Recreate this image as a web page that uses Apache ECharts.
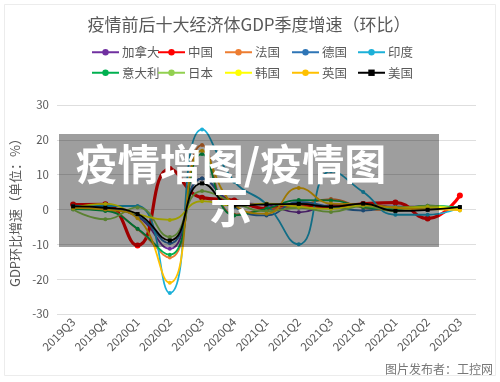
<!DOCTYPE html>
<html><head><meta charset="utf-8">
<script src="https://cdn.jsdelivr.net/npm/echarts@6/dist/echarts.min.js"></script>
<style>html,body{margin:0;padding:0;background:#fff}#c{width:500px;height:382px}</style>
</head><body><div id="c"></div>
<script>
const categories = ['2019Q3','2019Q4','2020Q1','2020Q2','2020Q3','2020Q4','2021Q1','2021Q2','2021Q3','2021Q4','2022Q1','2022Q2','2022Q3'];
const canada  = [0.3, 0.1, -2.1, -11.3, 8.9, 2.2, 1.3, -0.8, 1.3, 1.6, 0.8, 0.8, 0.7];
const china   = [1.4, 1.5, -10.3, 11.6, 3.4, 2.6, 0.3, 1.3, 0.7, 1.6, 2.0, -2.6, 4.0];
const france  = [0.2, -0.2, -5.7, -13.8, 18.5, -1.5, 0.1, 1.1, 3.0, 0.5, -0.2, 0.5, 0.2];
const germany = [0.3, 0.0, -1.9, -9.7, 8.9, 0.7, -1.7, 2.2, 0.8, -0.3, 0.8, 0.1, 0.4];
const india   = [1.0, 1.0, 1.0, -24.0, 23.0, 8.0, 1.5, -10.0, 11.0, 5.0, -1.5, -1.5, 0.5];
const italy   = [0.1, -0.4, -5.5, -13.0, 15.9, -1.7, 0.2, 2.7, 2.6, 0.7, 0.1, 1.1, 0.5];
const japan   = [0.0, -2.8, 0.6, -7.9, 5.3, 2.0, -0.5, 0.5, -0.7, 1.0, -0.5, 1.1, -0.3];
const korea   = [0.4, 1.6, -1.3, -3.0, 2.4, 1.1, 1.7, 0.8, 0.2, 1.2, 0.6, 0.7, 0.3];
const uk      = [0.5, 0.0, -2.5, -21.0, 16.9, 1.3, -1.2, 6.2, 1.7, 1.5, 0.5, 0.1, -0.2];
const us      = [0.9, 0.5, -1.3, -8.9, 7.5, 1.1, 1.5, 1.6, 0.8, 1.7, -0.4, -0.1, 0.7];
const seriesNames = ['加拿大','中国','法国','德国','印度','意大利','日本','韩国','英国','美国'];
const seriesData = [canada, china, france, germany, india, italy, japan, korea, uk, us];
const seriesColors = ['#7030A0','#FF0000','#ED7D31','#2E75B6','#1CB0D8','#00B050','#92D050','#FFFF00','#FFC000','#000000'];
const yTicks = [-30, 30, 10];

const chart = echarts.init(document.getElementById('c'));
const FONT = '"Noto Sans CJK SC", "Noto Sans", sans-serif';
const series = seriesNames.map((n, i) => ({
  name: n,
  type: 'line',
  data: seriesData[i],
  smooth: true,
  symbol: n === '美国' ? 'rect' : 'circle',
  symbolSize: n === '中国' ? 6 : 4,
  showSymbol: true,
  lineStyle: { width: n === '中国' ? 3.2 : 1.8, color: seriesColors[i] },
  itemStyle: { color: seriesColors[i] },
  emphasis: { disabled: true },
  z: 2 + i
}));
const colLefts = [86, 152, 219, 286, 352];
const legends = colLefts.map((lx, c) => ({
  left: lx, top: 41, orient: 'vertical',
  itemWidth: 27, itemHeight: 8, itemGap: 8,
  data: [seriesNames[c], seriesNames[c + 5]],
  textStyle: { fontFamily: FONT, fontSize: 12.5, color: '#595959', padding: [0, 0, 0, -2] },
  selectedMode: false
}));
chart.setOption({
  backgroundColor: '#fff',
  animation: false,
  title: {
    text: '疫情前后十大经济体GDP季度增速（环比）',
    left: 244, top: 11, textAlign: 'center',
    textStyle: { fontFamily: FONT, fontSize: 17, fontWeight: 'normal', color: '#595959' }
  },
  legend: legends,
  grid: { left: 57, right: 24, top: 105, bottom: 68 },
  xAxis: {
    type: 'category', data: categories, boundaryGap: true,
    axisLine: { show: false }, axisTick: { show: false },
    axisLabel: { rotate: 45, fontFamily: FONT, fontSize: 11.5, color: '#595959', margin: 6, interval: 0 }
  },
  yAxis: {
    type: 'value', min: yTicks[0], max: yTicks[1], interval: yTicks[2],
    name: 'GDP环比增速（单位：%）', nameLocation: 'middle', nameGap: 35, nameRotate: 90,
    nameTextStyle: { fontFamily: FONT, fontSize: 13, color: '#595959' },
    axisLine: { show: false }, axisTick: { show: false },
    axisLabel: { fontFamily: FONT, fontSize: 11.5, color: '#595959', margin: 8 },
    splitLine: { lineStyle: { color: '#dedede', width: 1 } }
  },
  series: series,
  graphic: [
    { type: 'rect', left: 2, top: 2, shape: { width: 491, height: 371 }, style: { fill: 'none', stroke: '#ececec', lineWidth: 1 }, z: 0, silent: true },
    { type: 'rect', shape: { x: 59, y: 134, width: 380, height: 113 }, style: { fill: 'rgba(0,0,0,0.38)' }, z: 100, silent: true },
    { type: 'text', x: 231, y: 143, z: 101, silent: true,
      style: { text: '疫情增图/疫情图\n示', fill: '#fff', font: 'bold 42px "Noto Sans CJK SC"', textAlign: 'center', textVerticalAlign: 'top', lineHeight: 43 } },
    { type: 'text', x: 493, y: 369, z: 101, silent: true,
      style: { text: '图片发布者：工控网', fill: '#777', font: '12px "Noto Sans CJK SC"', textAlign: 'right', textVerticalAlign: 'middle' } }
  ]
});
</script></body></html>
